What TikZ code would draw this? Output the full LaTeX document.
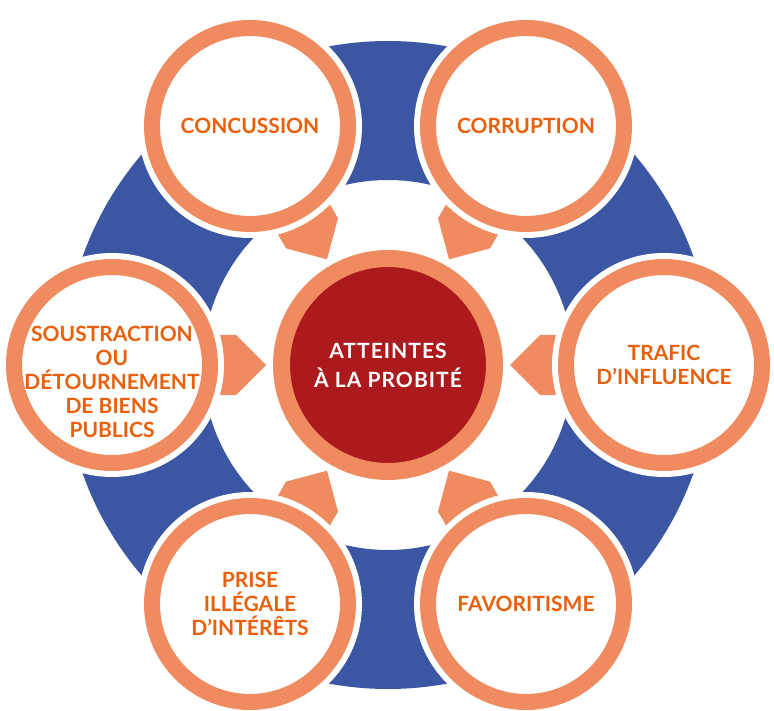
\documentclass[tikz,border=0pt]{standalone}
\usepackage{fontspec}
\setmainfont{Lato}
\newfontfamily\hubfont[LetterSpace=5]{Lato}
\definecolor{ringblue}{HTML}{3B57A3}
\definecolor{salmon}{HTML}{F08A5F}
\definecolor{probred}{HTML}{AD1A1D}
\definecolor{textorange}{HTML}{E8600C}

\begin{document}
\begin{tikzpicture}[x=1pt,y=1pt,
		every node/.style={inner sep=0pt,outer sep=0pt},
		petal/.style={circle,minimum size=196pt,draw=salmon,line width=16pt,fill=white,
			preaction={draw=white,line width=28pt}},
		hub/.style={circle,minimum size=213pt,draw=salmon,line width=17pt,fill=probred},
		petal text/.style={text=textorange,font=\bfseries\fontsize{21}{24}\selectfont,align=center},
		hub text/.style={text=white,font=\hubfont\bfseries\fontsize{21}{29}\selectfont,align=center},
		pointer/.style={fill=salmon}]
		\useasboundingbox (0,0) rectangle (774,-711);
		\coordinate (c) at (388,-365);
		% blue ring behind everything
		\fill [ringblue,even odd rule] (c) circle (324pt) (c) circle (185pt);
		% arrow heads towards the hub
		\fill [pointer,shift={(c)},rotate=0] (122,0) -- (152,30) -- (185,30) -- (185,-30) -- (152,-30) -- cycle;
		\fill [pointer,shift={(c)},rotate=60] (122,0) -- (152,30) -- (185,30) -- (185,-30) -- (152,-30) -- cycle;
		\fill [pointer,shift={(c)},rotate=120] (122,0) -- (152,30) -- (185,30) -- (185,-30) -- (152,-30) -- cycle;
		\fill [pointer,shift={(c)},rotate=180] (122,0) -- (152,30) -- (185,30) -- (185,-30) -- (152,-30) -- cycle;
		\fill [pointer,shift={(c)},rotate=240] (122,0) -- (152,30) -- (185,30) -- (185,-30) -- (152,-30) -- cycle;
		\fill [pointer,shift={(c)},rotate=300] (122,0) -- (152,30) -- (185,30) -- (185,-30) -- (152,-30) -- cycle;
		% outer circles
		\node [petal] (concussion) at (250,-126) {};
		\node [petal text] at (concussion) {CONCUSSION};
		\node [petal] (corruption) at (526,-126) {};
		\node [petal text] at (corruption) {CORRUPTION};
		\node [petal] (trafic) at (664,-365) {};
		\node [petal text] at (trafic) {TRAFIC\\D’INFLUENCE};
		\node [petal] (favoritisme) at (526,-604) {};
		\node [petal text] at (favoritisme) {FAVORITISME};
		\node [petal] (prise) at (250,-604) {};
		\node [petal text] at (prise) {PRISE\\ILLÉGALE\\D’INTÉRÊTS};
		\node [petal] (soustraction) at (112,-365) {};
		\node [petal text] at ([yshift=-17pt]soustraction) {SOUSTRACTION\\OU\\DÉTOURNEMENT\\DE BIENS\\PUBLICS};
		% hub
		\node [hub] (atteintes) at (c) {};
		\node [hub text] at (atteintes) {ATTEINTES\\À LA PROBITÉ};
	\end{tikzpicture}
\end{document}
